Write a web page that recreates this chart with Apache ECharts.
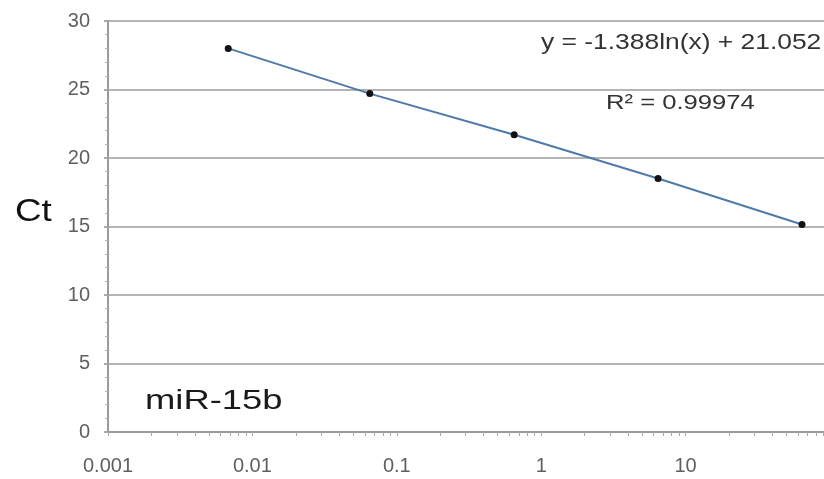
<!DOCTYPE html>
<html>
<head>
<meta charset="utf-8">
<script src="https://cdn.jsdelivr.net/npm/echarts@6/dist/echarts.min.js"></script>
<style>html,body{margin:0;padding:0;background:#fff;overflow:hidden}#c{width:830px;height:479px}</style>
</head>
<body>
<div id="c"></div>
<script>
// Data
const xValues = [0.0068, 0.065, 0.65, 6.45, 64];
const ctValues = [28.0, 24.7, 21.7, 18.5, 15.15];
const xTickLabels = ['0.001', '0.01', '0.1', '1', '10'];
const yTickLabels = ['0', '5', '10', '15', '20', '25', '30'];
const decades = [0.001, 0.01, 0.1, 1, 10];
const minorMultipliers = [1, 2, 3, 4, 5, 6, 7, 8, 9];
const equationText = 'y = -1.388ln(x) + 21.052';
const r2Text = 'R² = 0.99974';
const seriesName = 'miR-15b';

const tickValues = [];
decades.forEach(d => minorMultipliers.forEach(m => tickValues.push(+(d * m).toPrecision(6))));
tickValues.push(100);

const points = xValues.map((x, i) => [x, ctValues[i]]);
const font = '"Liberation Sans", Arial, Helvetica, sans-serif';

const chart = echarts.init(document.getElementById('c'), null, {renderer: 'canvas'});
chart.setOption({
  animation: false,
  backgroundColor: '#ffffff',
  grid: {left: 108, top: 21, right: 0, bottom: 47, show: true, borderColor: '#8c8c8c', borderWidth: 2, backgroundColor: 'transparent'},
  xAxis: {
    type: 'log', logBase: 10, min: 0.001, max: 100,
    axisLine: {show: true, lineStyle: {color: '#9a9a9a', width: 2}},
    axisTick: {show: true, length: 4, inside: false, customValues: tickValues, lineStyle: {color: '#a8a8a8', width: 1}},
    splitLine: {show: false},
    axisLabel: {
      show: true, color: '#5f5f5f', fontSize: 20, fontFamily: font, margin: 24,
      customValues: decades,
      formatter: v => {
        const i = decades.findIndex(d => Math.abs(Math.log10(d) - Math.log10(v)) < 1e-6);
        return i >= 0 ? xTickLabels[i] : '';
      }
    }
  },
  yAxis: {
    type: 'value', min: 0, max: 30, interval: 5,
    axisLine: {show: true, lineStyle: {color: '#9a9a9a', width: 2}},
    axisTick: {show: true, length: 4, lineStyle: {color: '#a8a8a8', width: 2}},
    minorTick: {show: true, splitNumber: 5, length: 3, lineStyle: {color: '#b0b0b0', width: 1}},
    splitLine: {show: true, lineStyle: {color: '#b4b4b4', width: 2}},
    axisLabel: {
      color: '#5f5f5f', fontSize: 20, fontFamily: font, margin: 18,
      formatter: (v) => yTickLabels[Math.round(v / 5)]
    }
  },
  series: [{
    name: seriesName,
    type: 'line',
    data: points,
    symbol: 'circle', symbolSize: 7,
    itemStyle: {color: '#111111'},
    lineStyle: {color: '#4f7aa8', width: 2},
    z: 5
  }],
  graphic: [
    {type: 'text', left: 15, top: 196, scaleX: 1.15, style: {text: 'Ct', font: '32px ' + font, fill: '#111'}},
    {type: 'text', x: 145, y: 387, scaleX: 1.3, style: {text: seriesName, font: '28px ' + font, fill: '#1a1a1a'}},
    {type: 'text', x: 541, y: 32, scaleX: 1.2, style: {text: equationText, font: '22px ' + font, fill: '#333'}},
    {type: 'text', x: 606, y: 93, scaleX: 1.22, style: {text: r2Text, font: '21px ' + font, fill: '#333'}}
  ]
});
</script>
</body>
</html>
